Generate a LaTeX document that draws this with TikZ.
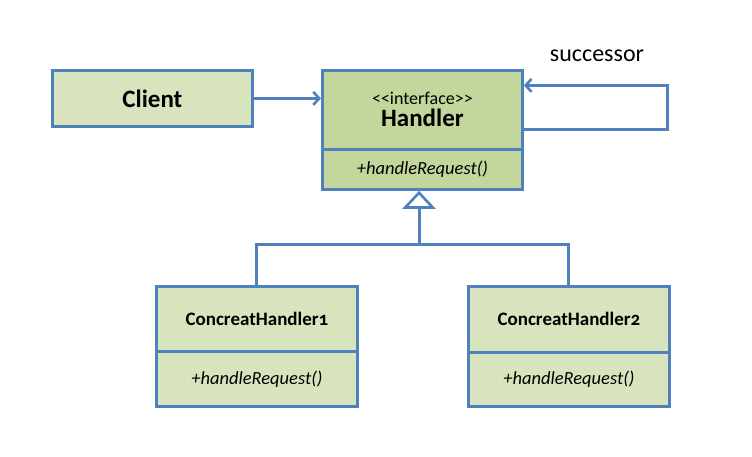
\documentclass[tikz,border=0pt]{standalone}
\usepackage{fontspec}
\setmainfont{Carlito}
\usetikzlibrary{arrows.meta,calc}
\definecolor{lgreen}{HTML}{D7E4BD}
\definecolor{dgreen}{HTML}{C3D69B}
\definecolor{umlblue}{HTML}{4F81BD}
\tikzset{
  box/.style={draw=umlblue, line width=2.8pt, rectangle, inner sep=0pt, anchor=north west, minimum width=200pt},
  conn/.style={draw=umlblue, line width=3pt},
  barb/.style={-{Straight Barb[length=6pt,width=13pt,line width=2.6pt]}},
  methfont/.style={font=\fontsize{18.5}{20}\selectfont\itshape},
  chfont/.style={font=\fontsize{19}{20}\selectfont\bfseries\addfontfeatures{Numbers=OldStyle}},
}
\begin{document}
\begin{tikzpicture}[x=1pt,y=-1pt]
\path[use as bounding box] (0,0) rectangle (752,457);
% Client
\node[box, fill=lgreen, minimum height=56pt, font=\fontsize{25}{26}\selectfont\bfseries] (client) at (51,69) {Client};
% Handler
\node[box, fill=dgreen, minimum height=79pt, align=center, font=\fontsize{18}{22}\selectfont] (htop) at (321,69) {{<}{<}interface{>}{>}\\{\fontsize{25}{22}\selectfont\bfseries Handler}};
\node[box, fill=dgreen, minimum height=40pt, methfont] (hbot) at (321,148) {+handleRequest()};
% Concrete handlers
\node[box, fill=lgreen, minimum width=201pt, minimum height=65pt, chfont] (c1top) at (155,285) {ConcreatHandler1};
\node[box, fill=lgreen, minimum width=201pt, minimum height=55pt, methfont] (c1bot) at (155,350) {\raisebox{-4pt}{+handleRequest()}};
\node[box, fill=lgreen, minimum width=201pt, minimum height=66pt, chfont] (c2top) at (467,285) {ConcreatHandler2};
\node[box, fill=lgreen, minimum width=201pt, minimum height=54pt, methfont] (c2bot) at (467,351) {\raisebox{-4pt}{+handleRequest()}};
% successor label
\node[font=\fontsize{24}{26}\selectfont] (succ) at (597,56) {successor};
% Client -> Handler
\draw[conn, barb] (client.east) -- (client.east -| htop.west);
% self association
\draw[conn, barb] ([yshift=-19.5pt]htop.east) -- ++(144,0) -- ++(0,-44) -- ([yshift=24.5pt]htop.east);
% inheritance
\coordinate (junc) at (419,244);
\draw[conn] (c1top.north) |- (junc) -| (c2top.north);
\draw[conn, -{Triangle[open, length=18pt, width=33pt, line width=2.6pt, fill=white]}] (junc) -- (junc |- hbot.south);
\end{tikzpicture}
\end{document}
